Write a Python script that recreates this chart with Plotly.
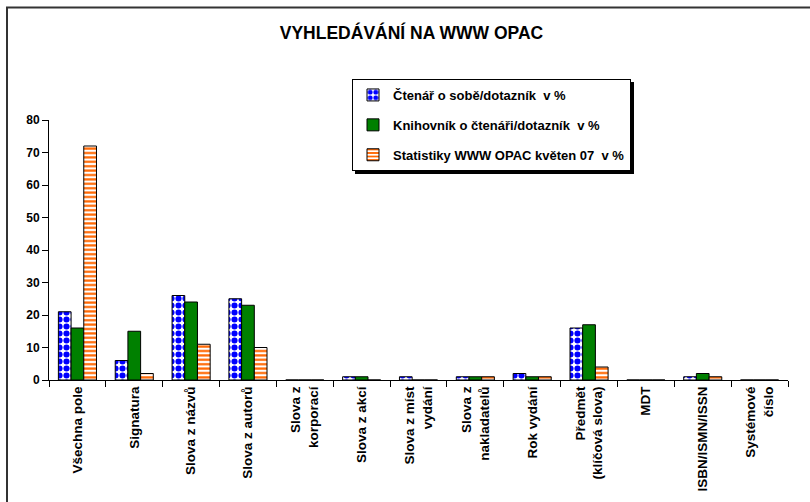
import plotly.graph_objects as go

categories = [
    "Všechna pole", "Signatura", "Slova z názvů", "Slova z autorů",
    "Slova z<br>korporací", "Slova z akcí", "Slova z míst<br>vydání",
    "Slova z<br>nakladatelů", "Rok vydání", "Předmět<br>(klíčová slova)",
    "MDT", "ISBN/ISMN/ISSN", "Systémové<br>číslo",
]
ctenar = [21, 6, 26, 25, 0, 1, 1, 1, 2, 16, 0, 1, 0]
knihovnik = [16, 15, 24, 23, 0, 1, 0, 1, 1, 17, 0, 2, 0]
statistiky = [72, 2, 11, 10, 0, 0, 0, 1, 1, 4, 0, 1, 0]

names = [
    "Čtenář o sobě/dotazník\u00a0 v %",
    "Knihovník o čtenáři/dotazník\u00a0 v %",
    "Statistiky WWW OPAC květen 07\u00a0 v %",
]

FONT = "Liberation Sans, Arial, sans-serif"
W, H = 810, 502
ML, MR, MT, MB = 49, 22, 120, 122
PW = W - ML - MR
PH = H - MT - MB

def px2x(px):
    return (px - ML) / PW

def py2y(py):
    return (H - MB - py) / PH

fig = go.Figure()
fig.add_trace(go.Bar(
    x=categories, y=ctenar, name=names[0], legendgroup="a",
    marker=dict(color="white", line=dict(color="black", width=1),
                pattern=dict(shape=".", fgcolor="#0000FF", bgcolor="white",
                             size=7, solidity=0.6, fillmode="replace")),
))
fig.add_trace(go.Bar(
    x=categories, y=knihovnik, name=names[1], legendgroup="b",
    marker=dict(color="#008000", line=dict(color="black", width=1)),
))
fig.add_trace(go.Bar(
    x=categories, y=statistiky, name=names[2], legendgroup="c",
    marker=dict(color="white", line=dict(color="black", width=1),
                pattern=dict(shape="-", fgcolor="#FF6600", bgcolor="white",
                             size=4.4, solidity=0.5, fillmode="replace")),
))

LEG_L, LEG_T, LEG_R, LEG_B = 352, 79, 631, 171

shapes = [
    # outer frame
    dict(type="rect", xref="paper", yref="paper",
         x0=px2x(7), x1=px2x(W + 20), y0=py2y(7.5), y1=py2y(H + 20),
         line=dict(color="#333333", width=2), fillcolor="rgba(0,0,0,0)", layer="below"),
    # legend shadow
    dict(type="rect", xref="paper", yref="paper",
         x0=px2x(LEG_L + 3), x1=px2x(LEG_R + 3), y0=py2y(LEG_T + 3), y1=py2y(LEG_B + 3),
         line=dict(width=0), fillcolor="black", layer="above"),
]

fig.update_layout(
    width=W, height=H,
    margin=dict(l=ML, r=MR, t=MT, b=MB, autoexpand=False),
    paper_bgcolor="white", plot_bgcolor="white",
    font=dict(family=FONT, size=13, color="black", weight="bold"),
    title=dict(text="VYHLEDÁVÁNÍ NA WWW OPAC", x=411.5 / W, xanchor="center",
               y=1 - 33 / H, yanchor="middle",
               font=dict(family=FONT, size=17.5, color="black", weight="bold")),
    barmode="group", bargap=0.33, bargroupgap=0,
    showlegend=True,
    legend=dict(x=px2x(LEG_L), y=py2y(LEG_T), xanchor="left", yanchor="top",
                bgcolor="white", bordercolor="black", borderwidth=1,
                font=dict(family=FONT, size=13, color="black", weight="bold"),
                tracegroupgap=10, itemwidth=30, traceorder="grouped"),
    shapes=shapes,
)
fig.update_xaxes(
    showline=True, linecolor="black", linewidth=1,
    ticks="outside", tickson="boundaries", ticklen=6, tickcolor="black",
    tickangle=-90, tickfont=dict(family=FONT, size=13.5, color="black", weight="bold"),
    showgrid=False,
)
fig.update_yaxes(
    range=[0, 80], dtick=10, showline=True, linecolor="black", linewidth=1,
    ticks="outside", ticklen=6, tickcolor="black",
    tickfont=dict(family=FONT, size=12, color="black", weight="bold"),
    showgrid=False, zeroline=False,
)

fig.write_html("out.html", config={"displayModeBar": False},
               post_script="document.body.style.margin='0';")
